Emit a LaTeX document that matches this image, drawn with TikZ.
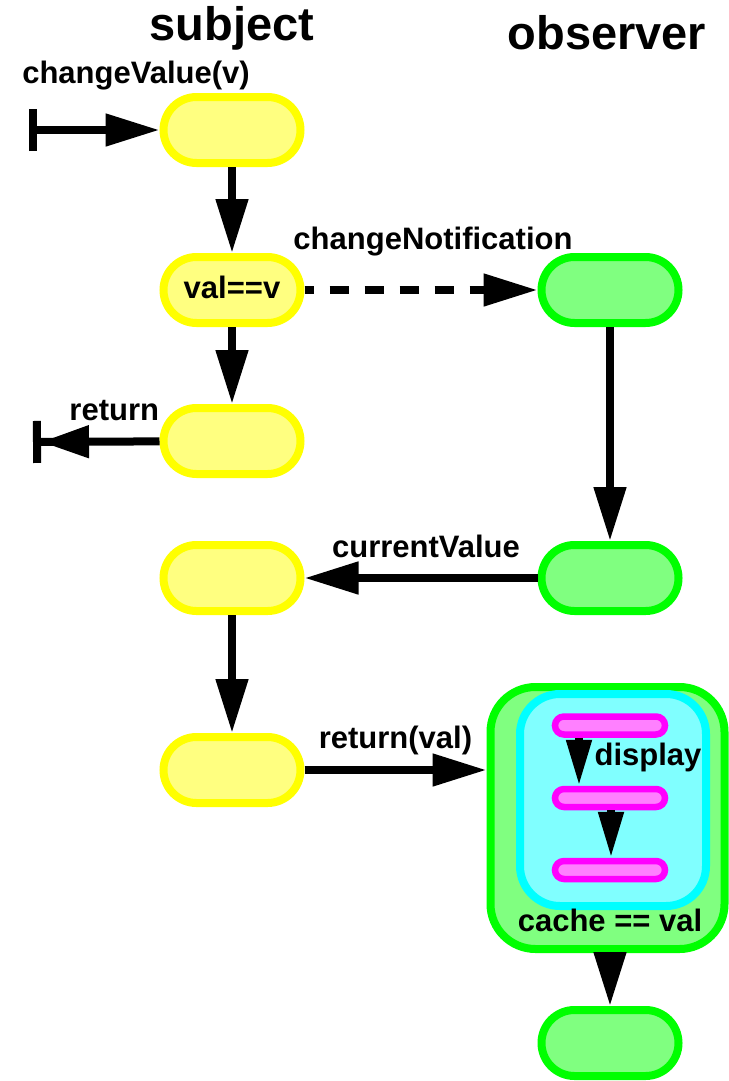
\documentclass[tikz,border=0pt]{standalone}
\usepackage{fontspec}
\setmainfont{Liberation Sans}
\usetikzlibrary{arrows.meta}
\definecolor{subjfill}{HTML}{FFFF80}
\definecolor{subjline}{HTML}{FFFF00}
\definecolor{obsfill}{HTML}{80FF80}
\definecolor{obsline}{HTML}{00FF00}
\definecolor{dispfill}{HTML}{80FFFF}
\definecolor{displine}{HTML}{00FFFF}
\definecolor{stepfill}{HTML}{FF80FF}
\definecolor{stepline}{HTML}{FF00FF}

\begin{document}
\begin{tikzpicture}[
        x=1pt, y=-1pt,
        >={Triangle[length=54pt, width=31pt]},
        pill/.style={rectangle, rounded corners=33pt, line width=8pt, minimum width=137pt, minimum height=66pt, inner sep=0pt},
        subj/.style={pill, draw=subjline, fill=subjfill},
        obs/.style={pill, draw=obsline, fill=obsfill},
        stepbar/.style={rectangle, rounded corners=9pt, line width=6.5pt, draw=stepline, fill=stepfill, minimum width=110pt, minimum height=18pt, inner sep=0pt},
        lbl/.style={font=\fontsize{31}{36}\selectfont\bfseries, inner sep=0pt, text height=22pt, text depth=6pt},
        title/.style={font=\fontsize{47}{56}\selectfont\bfseries, inner sep=0pt},
        flow/.style={draw, line width=8pt}
    ]
        \useasboundingbox (0,0) rectangle (728,1081);

        \node[title] (subjtitle) at (232, 28) {subject};
        \node[title] (obstitle) at (607, 33) {observer};

        \node[subj] (s1) at (232, 130) {};
        \node[subj, lbl] (s2) at (232, 290) {val==v};
        \node[subj] (s3) at (232, 441) {};
        \node[subj] (s4) at (232, 578) {};
        \node[subj] (s5) at (232, 770) {};

        \node[obs] (o1) at (610, 290) {};
        \node[obs] (o2) at (610, 578) {};
        \node[obs] (o3) at (610, 1043) {};

        \node[rectangle, rounded corners=45pt, line width=8pt, draw=obsline, fill=obsfill, minimum width=234pt, minimum height=262pt] (cache) at (607.5, 818) {};
        \node[rectangle, rounded corners=40pt, line width=8pt, draw=displine, fill=dispfill, minimum width=186pt, minimum height=212pt] (disp) at (613, 800) {};
        \node[stepbar] (m1) at (610, 725.5) {};
        \node[stepbar] (m2) at (610, 798) {};
        \node[stepbar] (m3) at (610, 870) {};
        \node[lbl] (displbl) at (648, 757) {display};
        \node[lbl] (cachelbl) at (610, 923) {cache == val};

        \coordinate (start) at (28.5, 130);
        \coordinate (stop) at (33, 442);
        \node[lbl] (callbl) at (136, 75) {changeValue(v)};

        \draw[flow, {Bar[width=42pt]}->] (start) -- (s1);
        \draw[flow, ->] (s1) -- (s2);
        \draw[flow, ->, dash pattern=on 19pt off 16pt, dash phase=10pt] (s2) -- node[lbl, above=31pt, xshift=12pt] {changeNotification} (o1);
        \draw[flow, ->] (s2) -- (s3);
        \draw[flow, -{Triangle[length=48pt, width=31pt, sep=0pt]Bar[width=42pt]}] (s3) -- node[lbl, above=11pt, xshift=18pt] {return} (stop);
        \draw[flow, ->] (o1) -- (o2);
        \draw[flow, ->] (o2) -- node[lbl, above=11pt, xshift=5pt] {currentValue} (s4);
        \draw[flow, ->] (s4) -- (s5);
        \draw[flow, ->] (s5) -- node[lbl, above=12pt] {return(val)} (s5 -| cache.west);
        \draw[flow, -{Triangle[length=46pt, width=24pt]}] ([xshift=-31pt]m1.south) -- ([xshift=-31pt]m2.north);
        \draw[flow, -{Triangle[length=46pt, width=24pt]}] ([xshift=1pt]m2.south) -- ([xshift=1pt]m3.north);
        \draw[flow, ->] (cache.south -| o3) -- (o3);
    \end{tikzpicture}
\end{document}
